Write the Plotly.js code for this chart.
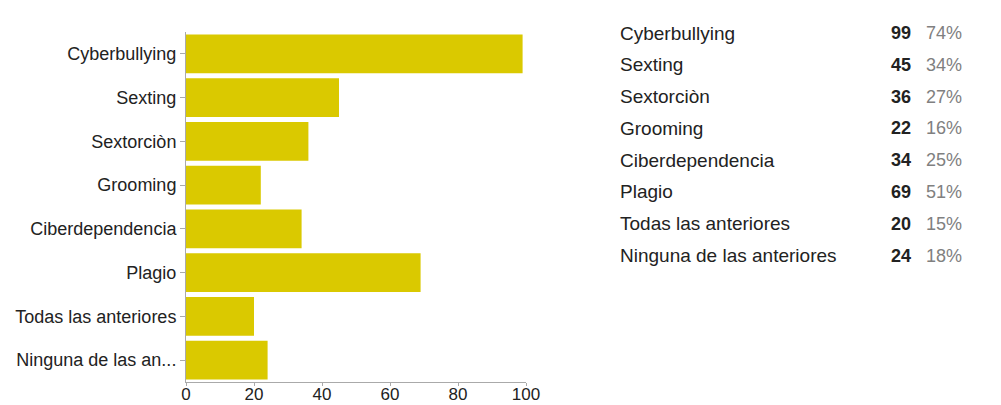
<!DOCTYPE html>
<html>
<head>
<meta charset="utf-8">
<script src="https://cdn.plot.ly/plotly-3.0.1.min.js"></script>
<style>html,body{margin:0;padding:0;background:#fff;}#chart{width:1001px;height:405px;}</style>
</head>
<body>
<div id="chart"></div>
<script>
const categories = ["Cyberbullying","Sexting","Sextorciòn","Grooming","Ciberdependencia","Plagio","Todas las anteriores","Ninguna de las anteriores"];
const tickLabels = ["Cyberbullying","Sexting","Sextorciòn","Grooming","Ciberdependencia","Plagio","Todas las anteriores","Ninguna de las an..."];
const counts = [99,45,36,22,34,69,20,24];
const percents = ["74%","34%","27%","16%","25%","51%","15%","18%"];
const xTicks = [0,20,40,60,80,100];

const W = 1001, H = 405;
const mL = 186, mR = 475, mT = 32, mB = 23;
const plotW = W - mL - mR;
const plotH = H - mT - mB;

function pxX(px){ return (px - mL) / plotW; }
function pxY(py){ return 1 - (py - mT) / plotH; }

const FONT = 'Liberation Sans, Arial, sans-serif';
const annotations = [];
const rowTop = 33, rowStep = 31.8;
categories.forEach((c, i) => {
  const y = pxY(rowTop + i * rowStep);
  annotations.push({xref:'paper', yref:'paper', x:pxX(618), y:y, xanchor:'left', yanchor:'middle', text:c, showarrow:false, font:{family:FONT, size:19, color:'#222'}});
  annotations.push({xref:'paper', yref:'paper', x:pxX(913), y:y, xanchor:'right', yanchor:'middle', text:'<b>'+counts[i]+'</b>', showarrow:false, font:{family:FONT, size:18, color:'#222'}});
  annotations.push({xref:'paper', yref:'paper', x:pxX(964), y:y, xanchor:'right', yanchor:'middle', text:percents[i], showarrow:false, font:{family:FONT, size:18, color:'#808080'}});
});

const trace = {
  type:'bar', orientation:'h',
  x: counts, y: categories,
  marker:{color:'#dac900', line:{width:0}},
  hoverinfo:'none'
};

const layout = {
  width:W, height:H,
  margin:{l:mL, r:mR, t:mT, b:mB, pad:0},
  paper_bgcolor:'#fff', plot_bgcolor:'#fff',
  showlegend:false,
  bargap:0.11,
  font:{family:FONT, size:17, color:'#222'},
  xaxis:{range:[0,100], tickvals:xTicks, ticktext:xTicks.map(String), showgrid:false, zeroline:false,
    showline:true, linecolor:'#aaa', linewidth:1, ticks:'outside', ticklen:3, tickcolor:'#aaa',
    ticklabelstandoff:-6,
    tickfont:{family:FONT, size:17, color:'#222'}, fixedrange:true},
  yaxis:{type:'category', categoryorder:'array', categoryarray:categories, autorange:'reversed',
    tickvals:categories, ticktext:tickLabels, showgrid:false, zeroline:false,
    showline:true, linecolor:'#aaa', linewidth:1, ticks:'outside', ticklen:5, tickcolor:'#aaa',
    tickfont:{family:FONT, size:18, color:'#222'}, fixedrange:true},
  annotations: annotations
};

Plotly.newPlot('chart', [trace], layout, {displayModeBar:false, staticPlot:true});
</script>
</body>
</html>
